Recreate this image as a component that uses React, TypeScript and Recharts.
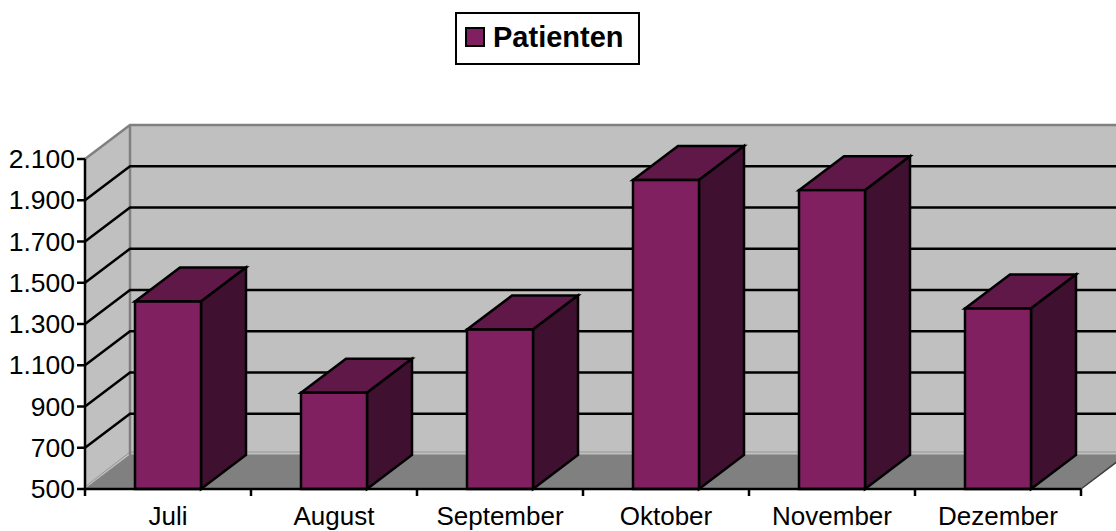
import { BarChart, Bar, XAxis, YAxis, CartesianGrid, Legend } from "recharts";

const months = ["Juli", "August", "September", "Oktober", "November", "Dezember"];
const patienten = [1409, 967, 1273, 1998, 1949, 1375];
const yTicks = [500, 700, 900, 1100, 1300, 1500, 1700, 1900, 2100];
const seriesName = "Patienten";

const WIDTH = 1116;
const HEIGHT = 531;
const LEFT = 85;
const RIGHT = 1081;
const TOP = 159;
const BOTTOM = 489;
const DX = 45; // 3D depth
const DY = 34;
const FONT = '"Liberation Sans", Arial, sans-serif';

const chartData = months.map((month, i) => ({ month, patienten: patienten[i] }));
const bandWidth = (RIGHT - LEFT) / months.length;

// walls and floor go in with the first grid line so they stay behind everything
function Walls() {
  const backLeft = LEFT + DX;
  const backRight = RIGHT + DX;
  return (
    <g>
      <polygon
        points={`${LEFT},${TOP} ${backLeft},${TOP - DY} ${backRight},${TOP - DY} ${backRight},${BOTTOM - DY} ${backLeft},${BOTTOM - DY} ${LEFT},${BOTTOM}`}
        fill="#c0c0c0"
      />
      <polygon
        points={`${LEFT},${BOTTOM} ${backLeft},${BOTTOM - DY} ${backRight},${BOTTOM - DY} ${RIGHT},${BOTTOM}`}
        fill="#808080"
        stroke="#808080"
        strokeWidth={1}
      />
      <polyline
        points={`${LEFT + 1},${BOTTOM - 3} ${backLeft},${BOTTOM - DY - 3} ${backRight},${BOTTOM - DY - 3}`}
        fill="none"
        stroke="#969696"
        strokeWidth={1}
      />
      <polyline
        points={`${LEFT},${TOP} ${backLeft},${TOP - DY} ${backRight},${TOP - DY}`}
        fill="none"
        stroke="#808080"
        strokeWidth={2.5}
      />
      <line x1={backLeft} y1={TOP - DY} x2={backLeft} y2={BOTTOM - DY} stroke="#808080" strokeWidth={2.5} />
      <line x1={RIGHT} y1={BOTTOM} x2={backRight} y2={BOTTOM - DY} stroke="#404040" strokeWidth={1.5} />
    </g>
  );
}

const gridLine = (props: any) => {
  const { y1, index } = props;
  const isEdge = Math.abs(y1 - TOP) < 1 || Math.abs(y1 - BOTTOM) < 1;
  return (
    <g key={`grid-${y1}`}>
      {index === 0 && <Walls />}
      {!isEdge && (
        <polyline
          points={`${LEFT},${y1} ${LEFT + DX},${y1 - DY} ${RIGHT + DX},${y1 - DY}`}
          fill="none"
          stroke="#000"
          strokeWidth={2.5}
        />
      )}
    </g>
  );
};

const Bar3D = (props: any) => {
  const { x, y, width, height } = props;
  const right = x + width;
  const bottom = y + height;
  return (
    <g stroke="#000" strokeWidth={2.5} strokeLinejoin="miter">
      <polygon
        points={`${x},${y} ${x + DX},${y - DY} ${right + DX},${y - DY} ${right},${y}`}
        fill="#601848"
      />
      <polygon
        points={`${right},${y} ${right + DX},${y - DY} ${right + DX},${bottom - DY} ${right},${bottom}`}
        fill="#401030"
      />
      <rect x={x} y={y} width={width} height={height} fill="#802060" />
    </g>
  );
};

const MonthTick = (props: any) => {
  const { x, payload, index } = props;
  const left = x - bandWidth / 2;
  return (
    <g>
      <line x1={left} y1={BOTTOM} x2={left} y2={BOTTOM + 7} stroke="#000" strokeWidth={2.5} />
      {index === months.length - 1 && (
        <line x1={left + bandWidth} y1={BOTTOM} x2={left + bandWidth} y2={BOTTOM + 7} stroke="#000" strokeWidth={2.5} />
      )}
      <text x={x} y={BOTTOM + 36} textAnchor="middle" fontSize={26} fontFamily={FONT} fill="#000">
        {payload.value}
      </text>
    </g>
  );
};

const ValueTick = (props: any) => {
  const { y, payload } = props;
  return (
    <g>
      <line x1={LEFT - 8} y1={y} x2={LEFT} y2={y} stroke="#000" strokeWidth={2.5} />
      <text x={LEFT - 10} y={y + 9} textAnchor="end" fontSize={26.5} fontFamily={FONT} fill="#000">
        {payload.value.toLocaleString("de-DE")}
      </text>
    </g>
  );
};

const LegendBox = ({ payload }: any) => (
  <div
    style={{
      boxSizing: "border-box",
      width: 185,
      height: 53,
      border: "2.5px solid #000",
      background: "#fff",
      display: "flex",
      alignItems: "center",
      paddingLeft: 8,
      paddingBottom: 3,
      fontFamily: FONT,
      fontWeight: "bold",
      fontSize: 29,
      color: "#000",
    }}
  >
    <span
      style={{
        boxSizing: "border-box",
        width: 20,
        height: 20,
        background: "#802060",
        border: "2px solid #000",
        marginRight: 8,
      }}
    />
    {payload?.[0]?.value}
  </div>
);

export default function App() {
  return (
    <div style={{ position: "absolute", left: 0, top: 0, width: WIDTH, height: HEIGHT }}>
      <BarChart
        width={WIDTH}
        height={HEIGHT}
        data={chartData}
        margin={{ top: TOP, right: WIDTH - RIGHT, bottom: 0, left: 0 }}
      >
        <CartesianGrid vertical={false} horizontal={gridLine} />
        <XAxis
          dataKey="month"
          interval={0}
          height={HEIGHT - BOTTOM}
          axisLine={{ stroke: "#000", strokeWidth: 2.5 }}
          tickLine={false}
          tick={<MonthTick />}
        />
        <YAxis
          domain={[500, 2100]}
          ticks={yTicks}
          interval={0}
          width={LEFT}
          axisLine={{ stroke: "#000", strokeWidth: 2.5 }}
          tickLine={false}
          tick={<ValueTick />}
        />
        <Legend
          verticalAlign="middle"
          content={<LegendBox />}
          wrapperStyle={{ position: "absolute", left: 455, top: 12, width: 185 }}
        />
        <Bar
          dataKey="patienten"
          name={seriesName}
          barSize={66}
          fill="#802060"
          shape={Bar3D}
          isAnimationActive={false}
        />
      </BarChart>
    </div>
  );
}
